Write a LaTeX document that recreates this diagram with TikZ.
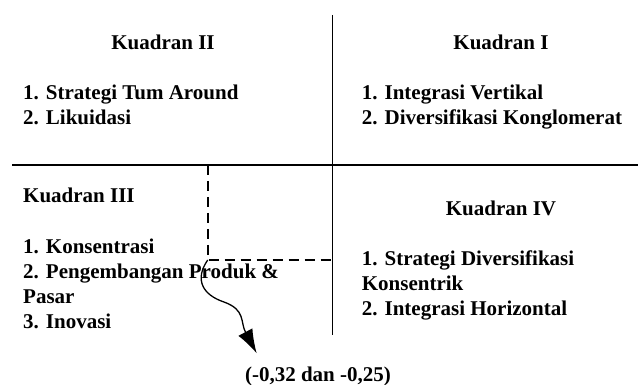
\documentclass[tikz,border=0pt]{standalone}
\usepackage{fontspec}
\setmainfont{Liberation Serif}
\usetikzlibrary{arrows.meta}
\begin{document}
\begin{tikzpicture}[x=1pt,y=-1pt,
  txt/.style={font=\bfseries\fontsize{21}{25}\selectfont, inner sep=0pt, align=left, anchor=base west},
  ttl/.style={font=\bfseries\fontsize{21}{25}\selectfont, inner sep=0pt, anchor=base},
  axisline/.style={line width=1.9pt},
  guide/.style={line width=1.6pt, dash pattern=on 10pt off 6pt},
  curvy/.style={line width=1.3pt, -{Latex[length=24pt,width=16pt]}}]
\useasboundingbox (0,0) rectangle (638,385);
% axes
\coordinate (top) at (332.5,15);
\coordinate (bottom) at (332.5,335);
\coordinate (left) at (12,165);
\coordinate (right) at (638,165);
\draw[axisline] (top) -- (bottom);
\draw[axisline] (left) -- (right);
% dashed guide
\coordinate (dtop) at (207.7,165);
\coordinate (corner) at (207.7,260);
\coordinate (dright) at (332.5,260);
\draw[guide] (dtop) -- (corner) -- (dright);
% titles
\node[ttl] (k2) at (163,50) {Kuadran II};
\node[ttl] (k1) at (501,50) {Kuadran I};
\node[txt] (k3) at (23,202.7) {Kuadran III};
\node[ttl] (k4) at (501,215) {Kuadran IV};
% lists (anchor = baseline of last line)
\node[txt] (l2) at (23,125) {1. Strategi Tum Around\\2. Likuidasi};
\node[txt] (l1) at (361.7,125) {1. Integrasi Vertikal\\2. Diversifikasi Konglomerat};
\node[txt] (l3) at (23,328) {1. Konsentrasi\\2. Pengembangan Produk \&\\Pasar\\3. Inovasi};
\node[txt] (l4) at (361.7,315.7) {1. Strategi Diversifikasi\\Konsentrik\\2. Integrasi Horizontal};
% result
\node[ttl] (res) at (318,381) {(-0,32 dan -0,25)};
\coordinate (tip) at (256.7,353.3);
\draw[curvy] (corner) .. controls (194,280) and (203,295) .. (224,302)
  .. controls (246,310) and (240,322) .. (tip);
\end{tikzpicture}
\end{document}
